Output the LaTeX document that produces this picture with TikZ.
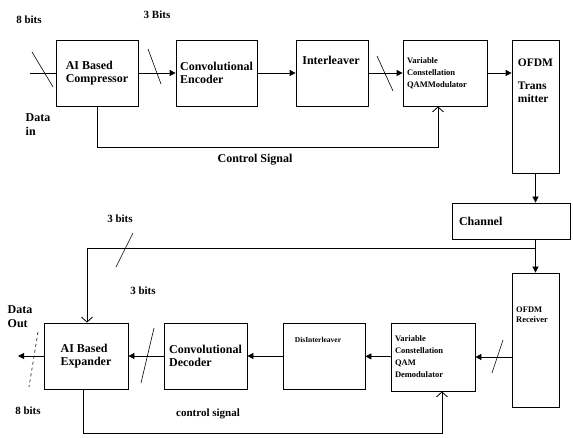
\documentclass[tikz,border=0pt]{standalone}
\usepackage{fontspec}
\setmainfont{Liberation Serif}
\usetikzlibrary{arrows.meta}

\tikzset{
  blk/.style={draw, line width=0.8pt, inner sep=2pt, align=left,
    font=\bfseries\fontsize{12}{13}\selectfont},
  smallblk/.style={blk, font=\bfseries\fontsize{8.5}{12}\selectfont},
  sig/.style={line width=0.8pt, -{Triangle[length=6pt,width=6pt]}},
  ctrl/.style={line width=0.8pt, -{Straight Barb[length=5pt,width=11pt]}},
  tick/.style={line width=0.6pt},
  lbl/.style={font=\bfseries\fontsize{11}{13}\selectfont, align=left}
}

\begin{document}
\begin{tikzpicture}[x=1pt, y=-1pt]
  \useasboundingbox (0,0) rectangle (573,438);

  % Top: transmitter chain
  \node[blk, minimum width=82, minimum height=66] (comp) at (97,73) {AI Based\\Compressor};
  \node[blk, minimum width=81, minimum height=66] (enc) at (216.5,73) {Convolutional\\Encoder};
  \node[blk, minimum width=72, minimum height=66] (intl) at (332,73) {};
  \node[lbl, font=\bfseries\fontsize{12}{13}\selectfont] (intltxt) at (331,60) {Interleaver};
  \node[smallblk, minimum width=84, minimum height=66, text width=76] (mod) at (445,73) {Variable\\Constellation\\QAMModulator};
  \node[blk, minimum width=47, minimum height=133] (tx) at (535.5,106.5) {};
  \node[lbl, font=\bfseries\fontsize{11.5}{13}\selectfont] (txtxt) at (535.5,81) {OFDM\\[10pt]Trans\\mitter};

  \coordinate (din) at (30,73);
  \draw[line width=0.8pt] (din) -- (comp.west);
  \draw[sig] (comp) -- (enc);
  \draw[sig] (enc) -- (intl);
  \draw[sig] (intl) -- (mod);
  \draw[sig] (mod) -- (mod -| tx.west);
  \draw[ctrl] (comp.south) -- ++(0,41) -| ([xshift=-7pt]mod.south);

  \draw[tick] (32,52) -- (53,87);
  \draw[tick] (148,49) -- (161,84);
  \draw[tick] (377,56) -- (393,91);

  \node[lbl] (b8in) at (29,20) {8 bits};
  \node[lbl] (b3in) at (157,15) {3 Bits};
  \node[lbl, font=\bfseries\fontsize{12}{14}\selectfont] (datain) at (38,125) {Data\\in};
  \node[lbl, font=\bfseries\fontsize{12}{13}\selectfont] (ctltop) at (255,160) {Control Signal};

  % Middle: channel
  \node[blk, minimum width=118, minimum height=36, text width=104] (chan) at (511,221) {Channel};
  \node[blk, minimum width=47, minimum height=134] (rx) at (535.5,340) {};
  \node[lbl, font=\bfseries\fontsize{8.5}{10}\selectfont] (rxtxt) at (532,315) {OFDM\\Receiver};
  \draw[sig] (tx.south) -- (tx.south |- chan.north);
  \draw[sig] (rx.north |- chan.south) -- (rx.north);

  % Bottom: receiver chain
  \node[smallblk, minimum width=84, minimum height=68, text width=76] (demod) at (433,357) {Variable\\Constellation\\QAM\\Demodulator};
  \node[blk, minimum width=82, minimum height=66] (disi) at (324,356) {};
  \node[lbl, font=\bfseries\fontsize{7.5}{9}\selectfont] (disitxt) at (318,340) {DisInterleaver};
  \node[blk, minimum width=83, minimum height=66] (dec) at (205.5,356) {Convolutional\\Decoder};
  \node[blk, minimum width=84, minimum height=66] (exp) at (86,356) {AI Based\\Expander};

  \coordinate (fb) at (rx.north |- 0,248);
  \coordinate (dout) at (18,356);
  \draw[sig] (rx.west |- demod) -- (demod);
  \draw[sig] (demod) -- (disi);
  \draw[sig] (disi) -- (dec);
  \draw[sig] (dec) -- (exp);
  \draw[sig] (exp) -- (dout);
  \draw[ctrl] (fb) -| ([xshift=1pt]exp.north);
  \draw[ctrl] ([xshift=-3pt]exp.south) -- ++(0,44) -| ([xshift=9pt]demod.south);

  \draw[tick] (503,340) -- (492,373);
  \draw[tick] (154,328) -- (141,383);
  \draw[tick] (133,233) -- (116,267);
  \draw[tick, dashed] (38,332) -- (29,387);

  \node[lbl] (b3fb) at (120,219) {3 bits};
  \node[lbl] (b3dec) at (143,291) {3 bits};
  \node[lbl, font=\bfseries\fontsize{12}{14}\selectfont] (dataout) at (20,317) {Data\\Out};
  \node[lbl] (b8out) at (28,411) {8 bits};
  \node[lbl] (ctlbot) at (208,414) {control signal};
\end{tikzpicture}
\end{document}
